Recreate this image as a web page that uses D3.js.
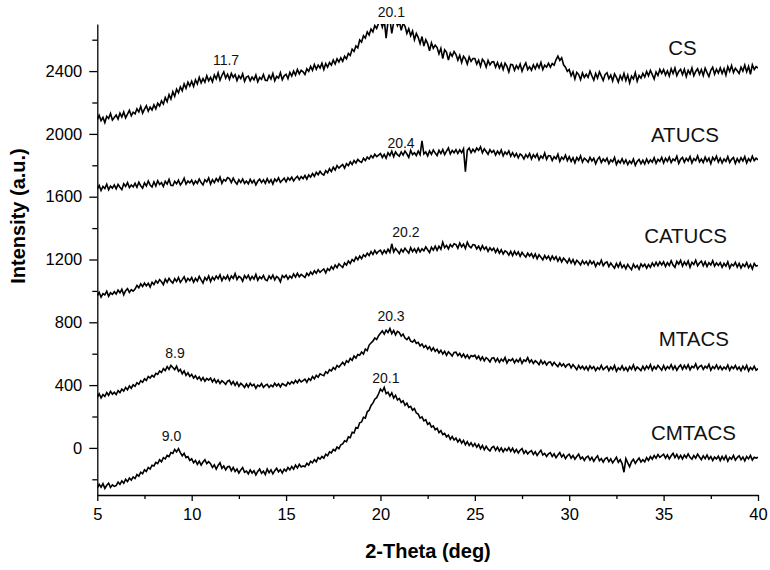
<!DOCTYPE html>
<html>
<head>
<meta charset="utf-8">
<script src="https://cdnjs.cloudflare.com/ajax/libs/d3/7.8.5/d3.min.js"></script>
<style>
  body { margin: 0; background: #fff; }
  svg text { font-family: "Liberation Sans", Arial, sans-serif; }
</style>
</head>
<body>
<div id="chart"></div>
<script>
// 2-theta grid: 5.0 .. 40.0 every 0.1 deg
let thetaStart = 5
let thetaStep = 0.1

let seriesNames = ["CS", "ATUCS", "CATUCS", "MTACS", "CMTACS"]

let csValues = [
  2090, 2118, 2085, 2105, 2072, 2112, 2098, 2130, 2088, 2104,
  2120, 2095, 2132, 2108, 2140, 2102, 2126, 2150, 2115, 2138,
  2128, 2160, 2140, 2175, 2132, 2158, 2180, 2145, 2170, 2152,
  2185, 2160, 2195, 2178, 2210, 2190, 2232, 2205, 2250, 2222,
  2268, 2240, 2285, 2262, 2300, 2275, 2318, 2290, 2330, 2305,
  2335, 2302, 2345, 2318, 2360, 2325, 2352, 2330, 2370, 2338,
  2360, 2332, 2375, 2350, 2388, 2342, 2372, 2395, 2355, 2380,
  2348, 2385, 2360, 2378, 2340, 2370, 2352, 2382, 2335, 2362,
  2368, 2338, 2362, 2345, 2375, 2332, 2360, 2348, 2378, 2342,
  2340, 2372, 2350, 2385, 2338, 2366, 2355, 2390, 2345, 2370,
  2380, 2352, 2392, 2368, 2400, 2375, 2410, 2382, 2405, 2395,
  2378, 2415, 2398, 2430, 2405, 2442, 2412, 2438, 2420, 2450,
  2410, 2448, 2425, 2455, 2438, 2470, 2445, 2478, 2458, 2485,
  2462, 2495, 2478, 2512, 2500, 2540, 2525, 2560, 2548, 2598,
  2585, 2625, 2610, 2650, 2630, 2668, 2650, 2690, 2672, 2705,
  2720, 2680, 2725, 2610, 2715, 2730, 2640, 2710, 2725, 2690,
  2715, 2660, 2705, 2685, 2640, 2670, 2625, 2655, 2600, 2640,
  2615, 2575, 2620, 2560, 2600, 2575, 2530, 2580, 2545, 2565,
  2550, 2510, 2545, 2480, 2535, 2520, 2470, 2515, 2495, 2525,
  2505, 2470, 2500, 2455, 2495, 2478, 2445, 2490, 2462, 2480,
  2480, 2445, 2470, 2430, 2475, 2460, 2425, 2468, 2440, 2458,
  2460, 2425, 2455, 2420, 2448, 2410, 2450, 2430, 2395, 2442,
  2440, 2405, 2435, 2415, 2445, 2400, 2430, 2452, 2410, 2428,
  2405, 2440, 2415, 2445, 2420, 2455, 2410, 2438, 2425, 2450,
  2425, 2448, 2438, 2472, 2495, 2468, 2485, 2440, 2425, 2398,
  2410, 2370, 2395, 2350, 2392, 2378, 2345, 2388, 2360, 2380,
  2360, 2400, 2370, 2342, 2385, 2355, 2395, 2368, 2340, 2378,
  2390, 2352, 2375, 2338, 2382, 2360, 2330, 2372, 2345, 2385,
  2340, 2375, 2325, 2368, 2350, 2390, 2335, 2372, 2355, 2385,
  2362, 2398, 2370, 2405, 2378, 2350, 2395, 2372, 2410, 2385,
  2410, 2375, 2402, 2368, 2415, 2385, 2420, 2372, 2398, 2412,
  2378, 2412, 2365, 2405, 2382, 2420, 2370, 2398, 2415, 2380,
  2410, 2372, 2418, 2390, 2365, 2405, 2425, 2380, 2412, 2388,
  2420, 2385, 2415, 2375, 2428, 2398, 2435, 2390, 2418, 2402,
  2385, 2425, 2400, 2438, 2395, 2430, 2380, 2440, 2410, 2428,
  2420
]

let atucsValues = [
  1648, 1672, 1640, 1665, 1652, 1680, 1645, 1668, 1655, 1675,
  1650, 1678, 1660, 1645, 1682, 1665, 1690, 1658, 1675, 1662,
  1685, 1660, 1692, 1670, 1655, 1688, 1668, 1700, 1675, 1662,
  1695, 1668, 1702, 1678, 1690, 1665, 1698, 1680, 1710, 1672,
  1670, 1698, 1682, 1705, 1675, 1692, 1718, 1680, 1700, 1688,
  1705, 1678, 1700, 1685, 1712, 1690, 1675, 1708, 1695, 1720,
  1680, 1708, 1690, 1715, 1698, 1725, 1685, 1710, 1700, 1722,
  1715, 1690, 1718, 1695, 1680, 1708, 1690, 1712, 1685, 1700,
  1682, 1710, 1688, 1705, 1675, 1698, 1712, 1690, 1708, 1685,
  1715, 1690, 1708, 1680, 1712, 1698, 1720, 1692, 1705, 1718,
  1695, 1720, 1705, 1725, 1700, 1718, 1730, 1708, 1728, 1715,
  1735, 1712, 1738, 1725, 1748, 1730, 1755, 1740, 1762, 1745,
  1738, 1765, 1752, 1778, 1760, 1788, 1770, 1798, 1782, 1795,
  1805, 1782, 1810, 1798, 1822, 1805, 1830, 1815, 1838, 1825,
  1818, 1845, 1830, 1852, 1840, 1862, 1848, 1870, 1855, 1865,
  1875, 1850, 1870, 1845, 1880, 1862, 1890, 1855, 1885, 1868,
  1858, 1885, 1865, 1890, 1872, 1850, 1895, 1868, 1880, 1862,
  1890, 1868, 1955, 1872, 1885, 1860, 1892, 1870, 1898, 1878,
  1862, 1895, 1875, 1900, 1868, 1890, 1910, 1872, 1895, 1880,
  1900, 1875, 1898, 1880, 1905, 1760, 1895, 1910, 1880, 1902,
  1885, 1910, 1895, 1918, 1880, 1905, 1888, 1870, 1900, 1882,
  1895, 1865, 1890, 1872, 1898, 1860, 1885, 1870, 1892, 1858,
  1880, 1855, 1875, 1848, 1872, 1862, 1840, 1868, 1850, 1875,
  1840, 1868, 1850, 1872, 1835, 1860, 1845, 1878, 1838, 1862,
  1860, 1830, 1855, 1842, 1870, 1825, 1852, 1838, 1865, 1830,
  1855, 1825, 1848, 1815, 1850, 1832, 1860, 1820, 1845, 1835,
  1820, 1850, 1828, 1845, 1810, 1838, 1852, 1818, 1840, 1825,
  1845, 1810, 1835, 1822, 1850, 1805, 1830, 1815, 1842, 1812,
  1835, 1805, 1828, 1812, 1840, 1800, 1825, 1838, 1810, 1832,
  1808, 1840, 1815, 1835, 1820, 1848, 1812, 1838, 1825, 1850,
  1815, 1845, 1825, 1852, 1818, 1840, 1830, 1858, 1812, 1838,
  1850, 1820, 1845, 1828, 1855, 1815, 1842, 1830, 1860, 1822,
  1840, 1818, 1852, 1825, 1845, 1810, 1850, 1832, 1858, 1820,
  1845, 1815, 1840, 1825, 1855, 1818, 1838, 1850, 1812, 1842,
  1820, 1848, 1828, 1855, 1815, 1842, 1825, 1858, 1830, 1845,
  1835
]

let catucsValues = [
  968, 990, 960, 982, 975, 998, 965, 988, 978, 995,
  980, 1005, 988, 1010, 975, 1002, 1015, 990, 1008, 998,
  1012, 1035, 1020, 1045, 1028, 1050, 1032, 1048, 1025, 1055,
  1040, 1065, 1050, 1072, 1058, 1040, 1075, 1055, 1080, 1062,
  1050, 1078, 1060, 1085, 1055, 1072, 1090, 1058, 1080, 1065,
  1085, 1055, 1080, 1062, 1092, 1070, 1050, 1085, 1068, 1095,
  1060, 1088, 1070, 1095, 1078, 1102, 1065, 1090, 1075, 1098,
  1068, 1095, 1080, 1110, 1072, 1092, 1085, 1062, 1098, 1080,
  1100, 1070, 1092, 1075, 1105, 1068, 1090, 1078, 1098, 1072,
  1065, 1095, 1078, 1100, 1070, 1092, 1082, 1058, 1098, 1085,
  1100, 1075, 1095, 1082, 1108, 1088, 1112, 1090, 1105, 1095,
  1085, 1112, 1098, 1120, 1105, 1128, 1112, 1135, 1118, 1130,
  1140, 1115, 1142, 1130, 1155, 1138, 1165, 1148, 1172, 1160,
  1150, 1178, 1165, 1190, 1175, 1200, 1188, 1215, 1198, 1222,
  1205, 1230, 1218, 1240, 1225, 1250, 1232, 1258, 1238, 1252,
  1260, 1235, 1258, 1240, 1265, 1245, 1300, 1248, 1270, 1255,
  1238, 1265, 1248, 1272, 1255, 1240, 1275, 1250, 1268, 1245,
  1272, 1248, 1268, 1255, 1280, 1262, 1245, 1278, 1260, 1285,
  1258, 1285, 1265, 1310, 1275, 1290, 1268, 1295, 1280, 1300,
  1295, 1272, 1305, 1280, 1298, 1270, 1310, 1285, 1275, 1295,
  1292, 1268, 1285, 1260, 1288, 1265, 1280, 1252, 1275, 1258,
  1272, 1245, 1268, 1240, 1262, 1235, 1255, 1248, 1228, 1252,
  1225, 1252, 1230, 1248, 1220, 1245, 1228, 1215, 1240, 1222,
  1238, 1212, 1235, 1205, 1230, 1215, 1198, 1225, 1205, 1222,
  1195, 1222, 1200, 1218, 1190, 1212, 1185, 1208, 1195, 1178,
  1205, 1178, 1200, 1170, 1195, 1182, 1165, 1192, 1172, 1188,
  1165, 1192, 1172, 1188, 1155, 1180, 1168, 1195, 1160, 1178,
  1185, 1155, 1178, 1160, 1145, 1175, 1152, 1180, 1148, 1165,
  1140, 1168, 1150, 1135, 1170, 1148, 1162, 1138, 1172, 1155,
  1170, 1145, 1168, 1150, 1178, 1158, 1182, 1160, 1185, 1165,
  1185, 1155, 1180, 1162, 1192, 1165, 1150, 1188, 1170, 1195,
  1158, 1185, 1165, 1190, 1150, 1182, 1168, 1195, 1160, 1178,
  1190, 1160, 1185, 1155, 1180, 1165, 1192, 1158, 1178, 1162,
  1180, 1150, 1175, 1158, 1185, 1145, 1170, 1160, 1182, 1152,
  1175, 1145, 1170, 1155, 1180, 1148, 1168, 1140, 1175, 1158,
  1162
]

let mtacsValues = [
  322, 345, 318, 340, 328, 352, 335, 360, 342, 355,
  340, 365, 352, 375, 362, 385, 370, 395, 380, 402,
  392, 415, 405, 428, 418, 440, 430, 455, 445, 462,
  452, 475, 468, 490, 480, 505, 492, 518, 500, 525,
  512, 498, 520, 488, 500, 472, 490, 462, 478, 455,
  468, 445, 460, 438, 452, 430, 448, 425, 442, 432,
  445, 420, 438, 415, 432, 410, 428, 418, 405, 425,
  430, 405, 422, 398, 418, 392, 412, 400, 385, 408,
  388, 412, 395, 405, 380, 400, 392, 410, 385, 398,
  405, 385, 400, 390, 412, 395, 408, 388, 410, 402,
  395, 418, 405, 422, 410, 430, 415, 435, 420, 428,
  438, 418, 442, 430, 455, 440, 462, 450, 472, 465,
  460, 485, 475, 498, 490, 512, 500, 525, 515, 530,
  545, 528, 555, 545, 570, 558, 585, 572, 595, 590,
  610, 598, 630, 620, 655, 668, 680, 700, 690, 715,
  730, 745, 725, 750, 735, 760, 728, 748, 720, 742,
  735, 712, 725, 700, 690, 705, 680, 675, 688, 665,
  672, 650, 662, 640, 652, 630, 645, 620, 638, 615,
  628, 605, 622, 598, 615, 590, 612, 600, 585, 608,
  610, 588, 602, 580, 598, 575, 592, 570, 588, 582,
  590, 568, 585, 560, 580, 555, 575, 565, 548, 572,
  575, 550, 570, 545, 565, 552, 575, 540, 562, 555,
  568, 542, 562, 548, 570, 538, 560, 552, 575, 545,
  560, 538, 555, 545, 530, 558, 535, 550, 528, 545,
  548, 525, 545, 530, 518, 540, 522, 535, 515, 530,
  535, 510, 530, 515, 498, 525, 505, 520, 500, 518,
  495, 522, 505, 518, 492, 512, 500, 525, 498, 510,
  520, 492, 515, 500, 525, 488, 510, 498, 522, 495,
  512, 490, 518, 500, 528, 495, 515, 505, 492, 520,
  498, 522, 505, 530, 495, 518, 502, 525, 510, 495,
  525, 498, 518, 505, 530, 500, 522, 495, 515, 528,
  500, 525, 505, 530, 498, 520, 510, 535, 502, 518,
  525, 500, 520, 508, 532, 495, 518, 505, 528, 502,
  520, 498, 515, 502, 528, 495, 518, 505, 525, 500,
  515, 492, 520, 500, 525, 490, 512, 498, 520, 495,
  505
]

let cmtacsValues = [
  -255, -232, -250, -228, -258, -238, -225, -252, -235, -245,
  -240, -218, -232, -210, -225, -200, -215, -192, -205, -185,
  -195, -170, -180, -155, -165, -140, -150, -125, -135, -110,
  -115, -92, -100, -75, -88, -62, -70, -48, -55, -30,
  -35, -10, -25, -5, -30, -50, -35, -62, -55, -80,
  -70, -95, -80, -105, -85, -110, -90, -75, -100, -88,
  -100, -125, -108, -135, -112, -95, -130, -115, -140, -120,
  -118, -145, -125, -150, -135, -160, -140, -125, -155, -148,
  -165, -140, -160, -145, -172, -150, -135, -162, -148, -170,
  -135, -158, -140, -165, -145, -130, -152, -138, -160, -135,
  -148, -125, -140, -118, -135, -110, -128, -105, -122, -115,
  -120, -98, -110, -85, -95, -75, -88, -62, -72, -55,
  -65, -40, -50, -25, -32, -10, -18, 5, -5, 20,
  25, 45, 40, 70, 65, 100, 95, 130, 125, 160,
  165, 195, 190, 230, 240, 270, 285, 310, 320, 345,
  375, 360, 385, 345, 355, 330, 350, 318, 335, 305,
  315, 290, 300, 272, 285, 258, 265, 240, 250, 222,
  215, 190, 198, 172, 180, 150, 160, 132, 140, 115,
  125, 98, 110, 85, 92, 70, 82, 55, 72, 50,
  62, 38, 55, 30, 48, 20, 40, 15, 32, 10,
  28, 5, 22, -5, 15, -12, 10, -8, -20, 2,
  10, -15, 5, -20, 0, -25, -5, -18, 2, -22,
  -2, -28, -10, -32, -15, -5, -35, -18, -38, -25,
  -18, -42, -25, -48, -30, -15, -45, -35, -55, -38,
  -30, -55, -38, -62, -45, -30, -58, -42, -68, -50,
  -40, -65, -48, -72, -55, -40, -70, -58, -80, -60,
  -52, -78, -60, -85, -65, -50, -82, -68, -90, -70,
  -62, -88, -70, -95, -78, -60, -92, -75, -100, -155,
  -68, -95, -120, -88, -72, -98, -80, -65, -90, -75,
  -88, -62, -80, -55, -72, -48, -65, -42, -60, -50,
  -40, -65, -45, -70, -50, -35, -62, -42, -68, -48,
  -70, -45, -62, -38, -60, -72, -48, -65, -40, -58,
  -75, -50, -68, -45, -72, -55, -80, -58, -70, -52,
  -80, -55, -75, -50, -85, -60, -72, -48, -78, -62,
  -50, -75, -58, -82, -55, -70, -48, -78, -60, -65,
  -60
]

// where the sample names sit (2-theta, intensity)
let nameTheta = [36.0, 36.13, 36.16, 36.6, 36.58]
let nameValue = [2502, 1948, 1305, 649, 50]

// peak annotations
let peakText = ["11.7", "20.1", "20.4", "20.2", "20.3", "8.9", "9.0", "20.1"]
let peakTheta = [11.82, 20.58, 21.09, 21.35, 20.56, 9.12, 8.93, 20.29]
let peakValue = [2439, 2744, 1910, 1343, 808, 573, 44, 413]

let xTicks = [5, 10, 15, 20, 25, 30, 35, 40]
let xMinorTicks = [7.5, 12.5, 17.5, 22.5, 27.5, 32.5, 37.5]
let yTicks = [0, 400, 800, 1200, 1600, 2000, 2400]
let yMinorTicks = [-200, 200, 600, 1000, 1400, 1800, 2200, 2600]

let width = 770
let height = 570
let margin = { top: 24, right: 12, bottom: 75, left: 97.3 }

let svg = d3.select("#chart")
  .append("svg")
  .attr("width", width)
  .attr("height", height)

let x = d3.scaleLinear()
  .domain([5, 40])
  .range([margin.left, width - margin.right])

let y = d3.scaleLinear()
  .domain([-300, 2700])
  .range([height - margin.bottom, margin.top])

svg.append("clipPath")
  .attr("id", "plotClip")
  .append("rect")
  .attr("x", margin.left)
  .attr("y", margin.top)
  .attr("width", width - margin.left - margin.right)
  .attr("height", height - margin.top - margin.bottom)

let line = d3.line()
  .x((d, i) => x(thetaStart + i * thetaStep))
  .y(d => y(d))

let allSeries = [csValues, atucsValues, catucsValues, mtacsValues, cmtacsValues]

svg.append("g")
  .attr("clip-path", "url(#plotClip)")
  .selectAll("path")
  .data(allSeries)
  .enter()
  .append("path")
  .attr("d", line)
  .attr("fill", "none")
  .attr("stroke", "#000")
  .attr("stroke-width", 1.6)
  .attr("stroke-linejoin", "miter")

// axes: left + bottom only
let gX = svg.append("g")
  .attr("transform", "translate(0," + (height - margin.bottom) + ")")
  .call(d3.axisBottom(x).tickValues(xTicks).tickSize(6).tickSizeOuter(0).tickPadding(7).tickFormat(d3.format("d")))

svg.append("g")
  .attr("transform", "translate(0," + (height - margin.bottom) + ")")
  .call(d3.axisBottom(x).tickValues(xMinorTicks).tickSize(4).tickFormat(""))
  .select(".domain").remove()

let gY = svg.append("g")
  .attr("transform", "translate(" + margin.left + ",0)")
  .call(d3.axisLeft(y).tickValues(yTicks).tickSize(8).tickSizeOuter(0).tickPadding(7).tickFormat(d3.format("d")))

svg.append("g")
  .attr("transform", "translate(" + margin.left + ",0)")
  .call(d3.axisLeft(y).tickValues(yMinorTicks).tickSize(5).tickFormat(""))
  .select(".domain").remove()

svg.selectAll(".domain, .tick line")
  .attr("stroke", "#000")
  .attr("stroke-width", 1.3)

gX.selectAll("text").attr("font-size", "16.5px").attr("fill", "#000")
gY.selectAll("text").attr("font-size", "16.5px").attr("fill", "#000")

// axis titles
svg.append("text")
  .attr("x", 428)
  .attr("y", 558)
  .attr("text-anchor", "middle")
  .attr("font-size", "20px")
  .attr("font-weight", "bold")
  .text("2-Theta (deg)")

svg.append("text")
  .attr("transform", "translate(25,216) rotate(-90)")
  .attr("text-anchor", "middle")
  .attr("font-size", "20px")
  .attr("font-weight", "bold")
  .text("Intensity (a.u.)")

// sample names
svg.selectAll(".name")
  .data(seriesNames)
  .enter()
  .append("text")
  .attr("class", "name")
  .attr("x", (d, i) => x(nameTheta[i]))
  .attr("y", (d, i) => y(nameValue[i]))
  .attr("text-anchor", "middle")
  .attr("font-size", "20.5px")
  .attr("fill", "#111")
  .text(d => d)

// peak positions
svg.selectAll(".peak")
  .data(peakText)
  .enter()
  .append("text")
  .attr("class", "peak")
  .attr("x", (d, i) => x(peakTheta[i]))
  .attr("y", (d, i) => y(peakValue[i]))
  .attr("text-anchor", "middle")
  .attr("font-size", "14px")
  .attr("fill", "#111")
  .text(d => d)
</script>
</body>
</html>
